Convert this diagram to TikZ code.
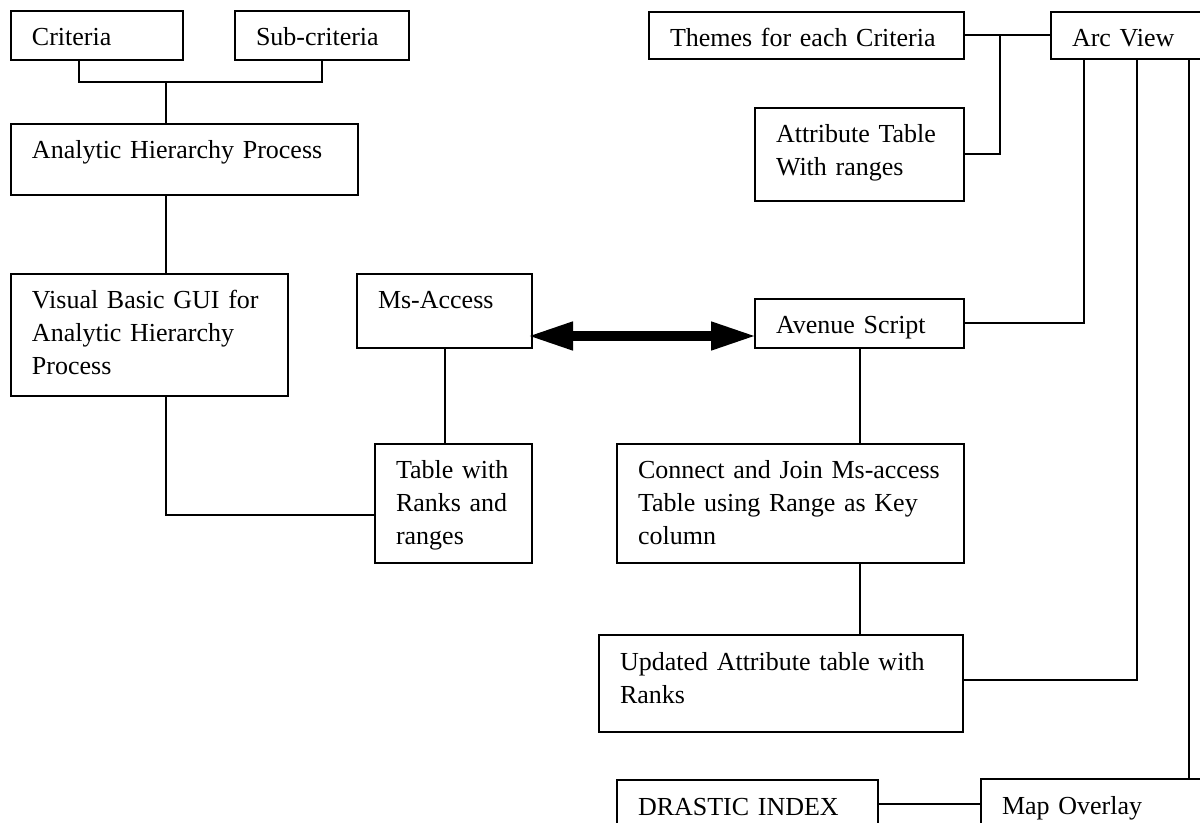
\documentclass[tikz,border=0pt]{standalone}
\usepackage{fontspec}
\setmainfont{Liberation Serif}
\usetikzlibrary{arrows.meta}
\tikzset{
  procbox/.style 2 args={draw, line width=1pt, anchor=north west, align=left,
    inner xsep=10.5pt, inner ysep=0pt, text width=#1, text height=17.5pt, text depth=#2,
    font={\fontsize{13pt}{16.5pt}\selectfont}},
  link/.style={line width=1pt},
  biarrow/.style={line width=5pt, shorten <=-3pt, shorten >=-1.5pt,
    {Triangle[length=23pt,width=13pt]}-{Triangle[length=23pt,width=13pt]}}
}
\begin{document}
\begin{tikzpicture}[x=0.5pt, y=-0.5pt]
    \path[use as bounding box, fill=white] (0,0) rectangle (1200,823);
    \clip (0,0) rectangle (1200,823);
    \node[procbox={65pt}{7pt}] (crit) at (10,10) {Criteria};
    \node[procbox={66pt}{7pt}] (subcrit) at (234,10) {Sub-criteria};
    \node[procbox={152.5pt}{18pt}] (ahp) at (10,123) {Analytic Hierarchy Process};
    \node[procbox={117.5pt}{43.5pt}] (vbgui) at (10,273) {Visual Basic GUI for\\Analytic Hierarchy\\Process};
    \node[procbox={66.5pt}{19.5pt}] (msacc) at (356,273) {Ms-Access};
    \node[procbox={57.5pt}{42pt}] (ranktab) at (374,443) {Table with\\Ranks and\\ranges};
    \node[procbox={83.5pt}{7pt}] (avenue) at (754,298) {Avenue Script};
    \node[procbox={152.5pt}{42pt}] (joinbox) at (616,443) {Connect and Join Ms-access\\Table using Range as Key\\column};
    \node[procbox={161pt}{31pt}] (updated) at (598,634) {Updated Attribute table with\\Ranks};
    \node[procbox={109.5pt}{6.5pt}] (drastic) at (616,779) {DRASTIC INDEX};
    \node[procbox={104pt}{7.5pt}] (overlay) at (980,778) {Map Overlay};
    \node[procbox={136.5pt}{6pt}] (themes) at (648,11) {Themes for each Criteria};
    \node[procbox={83.5pt}{29pt}] (attrib) at (754,107) {Attribute Table\\With ranges};
    \node[procbox={79pt}{6pt}] (arcview) at (1050,11) {Arc View};
    \coordinate (hub) at (166,82);
    \coordinate (busA) at ([xshift=17pt]arcview.south west);
    \coordinate (busB) at ([xshift=43.5pt]arcview.south west);
    \coordinate (busC) at ([xshift=69.5pt]arcview.south west);
    \draw[link] ([xshift=-9pt]crit.south) |- (subcrit.south |- hub) -- (subcrit.south);
    \draw[link] (hub) -- (hub |- ahp.north);
    \draw[link] (hub |- ahp.south) -- (hub |- vbgui.north);
    \draw[link] (hub |- vbgui.south) |- ([yshift=-5.75pt]ranktab.west);
    \draw[link] (msacc.south) -- (msacc.south |- ranktab.north);
    \draw[biarrow] ([yshift=-12.5pt]msacc.east) -- ([yshift=-6.25pt]avenue.west);
    \draw[link] (avenue.east) -| (busA);
    \draw[link] (avenue.south) -- (avenue.south |- joinbox.north);
    \draw[link] (avenue.south |- joinbox.south) -- (avenue.south |- updated.north);
    \draw[link] (busB) |- ([yshift=1.75pt]updated.east);
    \draw[link] (busC) -- (busC |- overlay.north);
    \draw[link] (drastic.east) -- (overlay.west);
    \draw[link] (themes.east) -- (arcview.west);
    \draw[link] ([xshift=17.5pt]themes.east) |- (attrib.east);
\end{tikzpicture}
\end{document}
